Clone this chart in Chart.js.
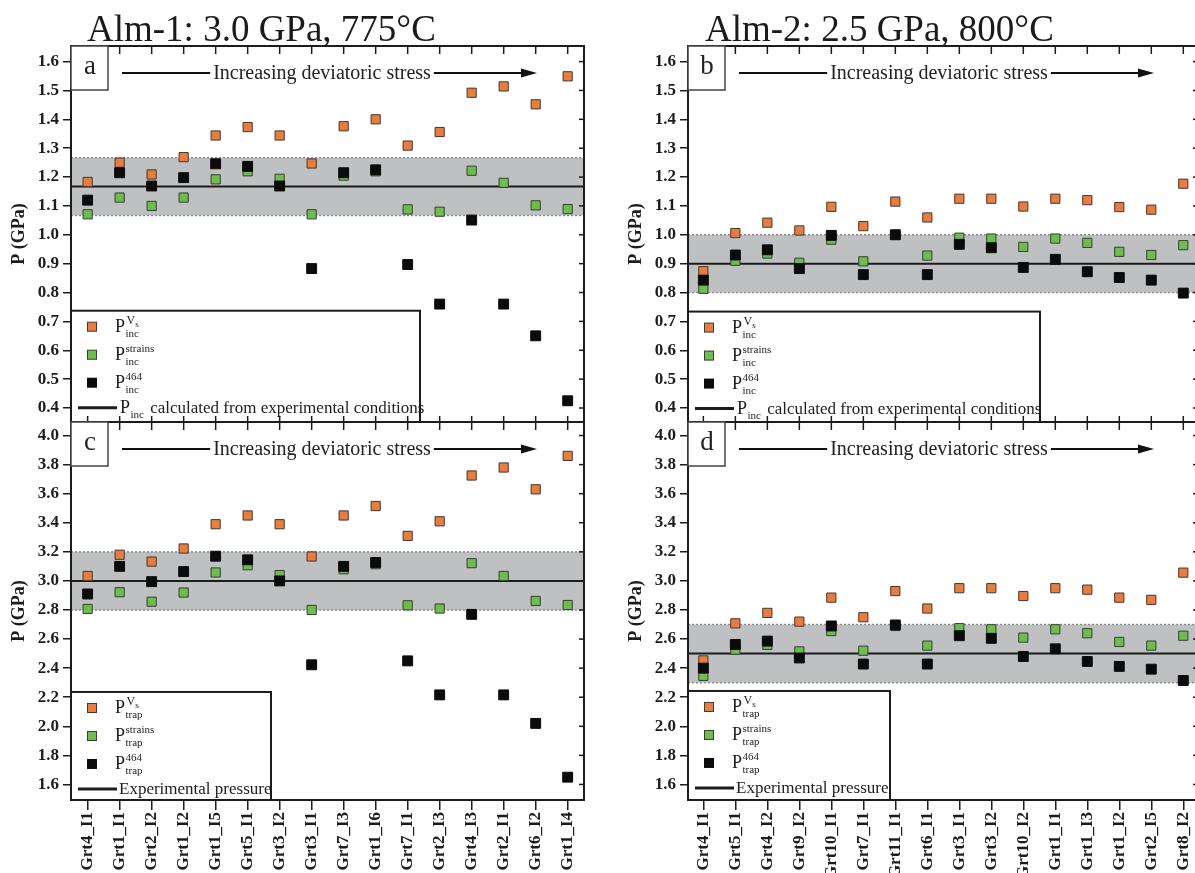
<!DOCTYPE html>
<html>
<head>
<meta charset="utf-8">
<script src="https://cdn.jsdelivr.net/npm/chart.js@4.4.1/dist/chart.umd.min.js"></script>
<style>
  html, body { margin: 0; padding: 0; background: #fff; overflow: hidden; width: 1195px; height: 873px; }
  canvas { position: absolute; }
</style>
</head>
<body>
<canvas id="chartA" width="600" height="430" style="left:0;top:0"></canvas>
<canvas id="chartC" width="600" height="473" style="left:0;top:400px"></canvas>
<canvas id="chartB" width="600" height="430" style="left:617px;top:0"></canvas>
<canvas id="chartD" width="600" height="473" style="left:617px;top:400px"></canvas>
<script>
const grainsAlm1 = ['Grt4_I1','Grt1_I1','Grt2_I2','Grt1_I2','Grt1_I5','Grt5_I1','Grt3_I2','Grt3_I1','Grt7_I3','Grt1_I6','Grt7_I1','Grt2_I3','Grt4_I3','Grt2_I1','Grt6_I2','Grt1_I4'];
const grainsAlm2 = ['Grt4_I1','Grt5_I1','Grt4_I2','Grt9_I2','Grt10_I1','Grt7_I1','Grt11_I1','Grt6_I1','Grt3_I1','Grt3_I2','Grt10_I2','Grt1_I1','Grt1_I3','Grt1_I2','Grt2_I5','Grt8_I2'];

// Alm-1 inclusion pressures (GPa)
const alm1IncVs      = [1.183,1.25,1.209,1.269,1.344,1.373,1.344,1.247,1.376,1.40,1.309,1.356,1.492,1.514,1.452,1.549];
const alm1IncStrains = [1.071,1.129,1.10,1.129,1.192,1.22,1.194,1.071,1.205,1.22,1.088,1.08,1.222,1.18,1.102,1.089];
const alm1Inc464     = [1.12,1.215,1.169,1.198,1.246,1.237,1.169,0.883,1.215,1.225,0.897,0.76,1.051,0.76,0.65,0.425];
// Alm-1 entrapment pressures (GPa)
const alm1TrapVs      = [3.034,3.18,3.133,3.223,3.39,3.45,3.39,3.168,3.45,3.515,3.31,3.41,3.725,3.78,3.63,3.86];
const alm1TrapStrains = [2.807,2.922,2.857,2.92,3.058,3.108,3.04,2.80,3.08,3.115,2.832,2.81,3.122,3.034,2.862,2.834];
const alm1Trap464     = [2.91,3.10,2.995,3.064,3.17,3.145,3.0,2.423,3.10,3.127,2.45,2.216,2.77,2.216,2.02,1.65];
// Alm-2 inclusion pressures (GPa)
const alm2IncVs      = [0.874,1.006,1.042,1.015,1.097,1.03,1.115,1.06,1.125,1.125,1.098,1.125,1.12,1.096,1.087,1.177];
const alm2IncStrains = [0.813,0.91,0.935,0.903,0.983,0.908,1.0,0.928,0.99,0.987,0.958,0.987,0.972,0.941,0.93,0.964];
const alm2Inc464     = [0.843,0.93,0.948,0.883,0.998,0.862,1.0,0.862,0.967,0.955,0.887,0.915,0.872,0.852,0.843,0.798];
// Alm-2 entrapment pressures (GPa)
const alm2TrapVs      = [2.453,2.708,2.78,2.72,2.885,2.75,2.93,2.81,2.95,2.95,2.896,2.95,2.94,2.885,2.87,3.057];
const alm2TrapStrains = [2.347,2.527,2.56,2.515,2.655,2.52,2.69,2.555,2.675,2.667,2.61,2.667,2.64,2.58,2.555,2.623];
const alm2Trap464     = [2.40,2.563,2.586,2.47,2.69,2.428,2.697,2.428,2.623,2.605,2.48,2.533,2.446,2.412,2.393,2.315];

// experimental reference pressure and its uncertainty band
const alm1PInc = 1.167, alm1IncBand = [1.067, 1.267];
const alm2PInc = 0.9,   alm2IncBand = [0.8, 1.0];
const alm1PExp = 3.0,   alm1TrapBand = [2.8, 3.2];
const alm2PExp = 2.5,   alm2TrapBand = [2.3, 2.7];

const incTicks  = [0.4,0.5,0.6,0.7,0.8,0.9,1.0,1.1,1.2,1.3,1.4,1.5,1.6];
const trapTicks = [1.6,1.8,2.0,2.2,2.4,2.6,2.8,3.0,3.2,3.4,3.6,3.8,4.0];

const ORANGE = '#ec7c3c', GREEN = '#6cbf4c', BLACK = '#0b0b0b', INK = '#1c1c1c';
const SERIF = '"Liberation Serif", "Times New Roman", serif';

function drawPLabel(ctx, x, base, sup, sub, rest) {
  ctx.fillStyle = INK;
  ctx.textAlign = 'left';
  ctx.textBaseline = 'alphabetic';
  ctx.font = '18px ' + SERIF;
  ctx.fillText('P', x, base);
  const xs = x + ctx.measureText('P').width + 0.5;
  let wSup = 0, wSub = 0;
  if (sup === 'Vs') {
    ctx.font = '12px ' + SERIF;
    ctx.fillText('V', xs + 1, base - 8);
    const wv = ctx.measureText('V').width;
    ctx.font = '9px ' + SERIF;
    ctx.fillText('s', xs + 1 + wv, base - 5);
    wSup = wv + 6;
  } else if (sup) {
    ctx.font = '11px ' + SERIF;
    ctx.fillText(sup, xs, base - 8);
    wSup = ctx.measureText(sup).width;
  }
  ctx.font = '11px ' + SERIF;
  ctx.fillText(sub, xs, base + 5);
  wSub = ctx.measureText(sub).width;
  if (rest) {
    ctx.font = '17px ' + SERIF;
    ctx.fillText(rest, xs + Math.max(wSup, wSub) + 2, base);
  }
}

const panelDecor = {
  id: 'panelDecor',
  beforeDatasetsDraw(chart, args, o) {
    const {ctx, chartArea: a, scales: {y}} = chart;
    ctx.save();
    const yHi = y.getPixelForValue(o.band[1]), yLo = y.getPixelForValue(o.band[0]);
    ctx.fillStyle = '#bec0c2';
    ctx.fillRect(a.left, yHi, a.width, yLo - yHi);
    ctx.strokeStyle = '#8c8c8c';
    ctx.lineWidth = 1.5;
    ctx.setLineDash([2, 2]);
    [yHi, yLo].forEach(py => {
      ctx.beginPath(); ctx.moveTo(a.left, py); ctx.lineTo(a.right, py); ctx.stroke();
    });
    ctx.setLineDash([]);
    const yc = y.getPixelForValue(o.line);
    ctx.strokeStyle = INK;
    ctx.lineWidth = 2;
    ctx.beginPath(); ctx.moveTo(a.left, yc); ctx.lineTo(a.right, yc); ctx.stroke();
    ctx.restore();
  },
  afterDatasetsDraw(chart, args, o) {
    const {ctx, chartArea: a, scales: {x, y}} = chart;
    ctx.save();

    // legend box
    const lg = o.legend;
    const top = y.getPixelForValue(lg.top);
    ctx.fillStyle = '#fff';
    ctx.fillRect(a.left, top, lg.right, a.bottom - top);
    ctx.strokeStyle = INK;
    ctx.lineWidth = 2;
    ctx.strokeRect(a.left, top, lg.right, a.bottom - top);
    const rowsY = [16, 44, 72];
    const colors = [ORANGE, GREEN, BLACK];
    const sups = ['Vs', 'strains', '464'];
    rowsY.forEach((dy, i) => {
      const cy = top + dy, cx = a.left + 21;
      const s = i === 2 ? 10 : 9;
      ctx.fillStyle = colors[i];
      ctx.fillRect(cx - s / 2, cy - s / 2, s, s);
      if (i < 2) { ctx.strokeStyle = '#3a3a3a'; ctx.lineWidth = 1; ctx.strokeRect(cx - s / 2, cy - s / 2, s, s); }
      drawPLabel(ctx, a.left + 44, cy + 5, sups[i], lg.sub);
    });
    const ly = top + 97;
    ctx.strokeStyle = INK;
    ctx.lineWidth = 3;
    ctx.beginPath(); ctx.moveTo(a.left + 7, ly); ctx.lineTo(a.left + 46, ly); ctx.stroke();
    if (lg.sub === 'inc') {
      drawPLabel(ctx, a.left + 49, ly + 5, null, 'inc', lg.lineText);
    } else {
      ctx.fillStyle = INK;
      ctx.font = '17px ' + SERIF;
      ctx.textAlign = 'left';
      ctx.fillText(lg.lineText, a.left + 48, ly + 5);
    }

    // frame and inward ticks
    ctx.strokeStyle = INK;
    ctx.lineWidth = 2;
    ctx.strokeRect(a.left, a.top, a.width, a.height);
    ctx.lineWidth = 1.5;
    x.ticks.forEach(t => {
      const px = x.getPixelForValue(t.value);
      ctx.beginPath(); ctx.moveTo(px, a.top); ctx.lineTo(px, a.top + 8); ctx.stroke();
      if (o.bottomInward) {
        ctx.beginPath(); ctx.moveTo(px, a.bottom); ctx.lineTo(px, a.bottom - 6); ctx.stroke();
      }
    });
    y.ticks.forEach(t => {
      const py = y.getPixelForValue(t.value);
      ctx.beginPath(); ctx.moveTo(a.right, py); ctx.lineTo(a.right - 5, py); ctx.stroke();
    });

    // panel letter
    ctx.fillStyle = '#fff';
    ctx.fillRect(a.left, a.top, 37, 44);
    ctx.strokeStyle = '#444';
    ctx.lineWidth = 1.5;
    ctx.strokeRect(a.left, a.top, 37, 44);
    ctx.fillStyle = '#222';
    ctx.font = '27px ' + SERIF;
    ctx.textAlign = 'center';
    ctx.textBaseline = 'middle';
    ctx.fillText(o.letter, a.left + 19, a.top + 21);

    // arrow with text
    const ay = a.top + 27, x1 = a.left + 51, x2 = a.left + 466, tx = a.left + 251;
    ctx.font = '20px ' + SERIF;
    const tw = ctx.measureText('Increasing deviatoric stress').width;
    ctx.fillStyle = '#222';
    ctx.fillText('Increasing deviatoric stress', tx, ay + 1);
    ctx.strokeStyle = '#111';
    ctx.lineWidth = 2;
    ctx.beginPath();
    ctx.moveTo(x1, ay); ctx.lineTo(tx - tw / 2 - 3, ay);
    ctx.moveTo(tx + tw / 2 + 3, ay); ctx.lineTo(x2 - 12, ay);
    ctx.stroke();
    ctx.fillStyle = '#111';
    ctx.beginPath();
    ctx.moveTo(x2, ay); ctx.lineTo(x2 - 16, ay - 4.5); ctx.lineTo(x2 - 16, ay + 4.5); ctx.closePath();
    ctx.fill();
    ctx.restore();
  },
  afterDraw(chart, args, o) {
    if (!o.title) return;
    const {ctx, chartArea: a} = chart;
    ctx.save();
    ctx.fillStyle = '#1a1a1a';
    ctx.font = '37px ' + SERIF;
    ctx.textAlign = 'left';
    ctx.textBaseline = 'alphabetic';
    ctx.fillText(o.title, a.left + o.titleDx, 41);
    ctx.restore();
  }
};

function series(vals) { return vals.map((v, i) => ({x: i, y: v})); }

function zeroPad(s) { s.paddingLeft = 0; s.paddingRight = 0; s.paddingTop = 0; s.paddingBottom = 0; }

function panelChart(id, p) {
  const labels = p.labels;
  return new Chart(document.getElementById(id).getContext('2d'), {
    type: 'scatter',
    data: {
      datasets: [
        {data: series(p.vs), backgroundColor: ORANGE, borderColor: '#3a3a3a', borderWidth: 1, pointStyle: 'rect', pointRadius: 6.5, order: 3},
        {data: series(p.strains), backgroundColor: GREEN, borderColor: '#3a3a3a', borderWidth: 1, pointStyle: 'rect', pointRadius: 6.5, order: 2},
        {data: series(p.raman), backgroundColor: BLACK, borderColor: BLACK, borderWidth: 1, pointStyle: 'rect', pointRadius: 7, order: 1}
      ]
    },
    options: {
      responsive: false,
      animation: false,
      devicePixelRatio: 1,
      layout: {padding: {top: p.padTop, right: p.padRight, left: 0, bottom: 0}},
      plugins: {
        legend: {display: false},
        tooltip: {enabled: false},
        panelDecor: {
          band: p.band, line: p.line, letter: p.letter, legend: p.legend,
          bottomInward: !p.showLabels, title: p.title, titleDx: p.titleDx
        }
      },
      scales: {
        x: {
          type: 'linear',
          min: p.xMin, max: p.xMax,
          afterBuildTicks: s => { s.ticks = labels.map((_, i) => ({value: i})); },
          afterFit: s => { s.height = p.xAxisHeight; zeroPad(s); },
          ticks: {
            display: p.showLabels,
            autoSkip: false,
            maxRotation: 90, minRotation: 90,
            padding: 2,
            color: INK,
            font: {family: SERIF, size: 17, weight: 'bold'},
            callback: v => labels[v]
          },
          grid: {display: p.showLabels, drawOnChartArea: false, tickLength: 10, color: INK, lineWidth: 1.5},
          border: {display: false}
        },
        y: {
          min: p.yMin, max: p.yMax,
          afterBuildTicks: s => { s.ticks = p.yTicks.map(v => ({value: v})); },
          afterFit: s => { s.width = 71; zeroPad(s); },
          ticks: {
            padding: 4,
            color: INK,
            font: {family: SERIF, size: 17, weight: 'bold'},
            callback: v => v.toFixed(1)
          },
          grid: {drawOnChartArea: false, tickLength: 8, color: INK, lineWidth: 1.5},
          border: {display: false},
          title: {
            display: true, text: 'P (GPa)', color: INK,
            font: {family: SERIF, size: 18, weight: 'bold'},
            padding: {top: 9, bottom: 0}
          }
        }
      }
    },
    plugins: [panelDecor]
  });
}

const incLegendText = ' calculated from experimental conditions';

panelChart('chartA', {
  labels: grainsAlm1, vs: alm1IncVs, strains: alm1IncStrains, raman: alm1Inc464,
  band: alm1IncBand, line: alm1PInc, letter: 'a',
  legend: {top: 0.737, right: 349, sub: 'inc', lineText: incLegendText},
  yTicks: incTicks, yMin: 0.3515, yMax: 1.654, xMin: -0.52, xMax: 15.51,
  padTop: 46, padRight: 16, xAxisHeight: 8, showLabels: false,
  title: 'Alm-1: 3.0 GPa, 775°C', titleDx: 16
});
panelChart('chartC', {
  labels: grainsAlm1, vs: alm1TrapVs, strains: alm1TrapStrains, raman: alm1Trap464,
  band: alm1TrapBand, line: alm1PExp, letter: 'c',
  legend: {top: 2.236, right: 200, sub: 'trap', lineText: 'Experimental pressure'},
  yTicks: trapTicks, yMin: 1.493, yMax: 4.093, xMin: -0.52, xMax: 15.51,
  padTop: 22, padRight: 16, xAxisHeight: 73, showLabels: true
});
panelChart('chartB', {
  labels: grainsAlm2, vs: alm2IncVs, strains: alm2IncStrains, raman: alm2Inc464,
  band: alm2IncBand, line: alm2PInc, letter: 'b',
  legend: {top: 0.734, right: 352, sub: 'inc', lineText: incLegendText},
  yTicks: incTicks, yMin: 0.3515, yMax: 1.654, xMin: -0.48, xMax: 15.46,
  padTop: 46, padRight: 19, xAxisHeight: 8, showLabels: false,
  title: 'Alm-2: 2.5 GPa, 800°C', titleDx: 17
});
panelChart('chartD', {
  labels: grainsAlm2, vs: alm2TrapVs, strains: alm2TrapStrains, raman: alm2Trap464,
  band: alm2TrapBand, line: alm2PExp, letter: 'd',
  legend: {top: 2.243, right: 202, sub: 'trap', lineText: 'Experimental pressure'},
  yTicks: trapTicks, yMin: 1.493, yMax: 4.093, xMin: -0.48, xMax: 15.46,
  padTop: 22, padRight: 19, xAxisHeight: 73, showLabels: true
});
</script>
</body>
</html>
